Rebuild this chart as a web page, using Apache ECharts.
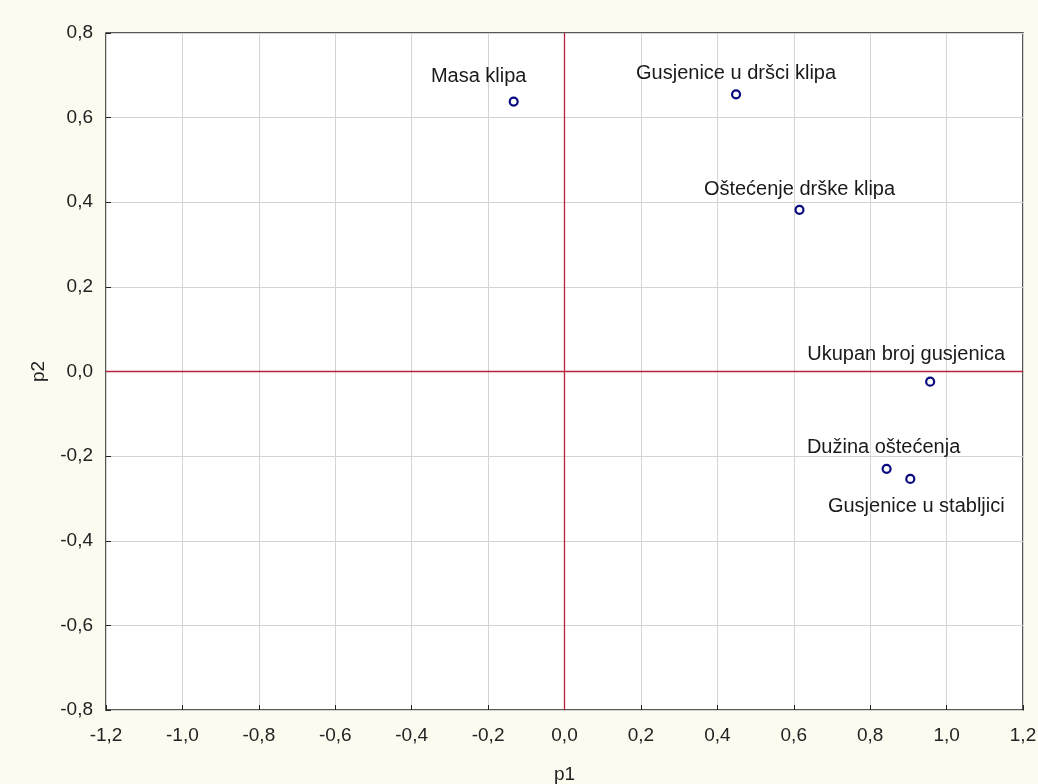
<!DOCTYPE html>
<html><head><meta charset="utf-8">
<script src="https://cdn.jsdelivr.net/npm/echarts@6/dist/echarts.min.js"></script>
<style>html,body{margin:0;padding:0;background:#fdfaf0;}#c{width:1038px;height:784px;}</style>
</head><body><div id="c"></div>
<script>
const names = ["Masa klipa","Gusjenice u dršci klipa","Oštećenje drške klipa","Ukupan broj gusjenica","Dužina oštećenja","Gusjenice u stabljici"];
const p1 = [-0.133, 0.449, 0.615, 0.957, 0.843, 0.905];
const p2 = [0.638, 0.655, 0.382, -0.024, -0.230, -0.254];

const labelOffsets = {
  "Masa klipa": [-35, -25],
  "Gusjenice u dršci klipa": [0, -21],
  "Oštećenje drške klipa": [0, -20],
  "Ukupan broj gusjenica": [-24, -27],
  "Dužina oštećenja": [-3, -21],
  "Gusjenice u stabljici": [6, 28]
};
const fmt = v => (Math.round(v*10)/10).toFixed(1).replace('.', ',');
const data = names.map((n,i)=>({
  name: n, value: [p1[i], p2[i]],
  label: {offset: labelOffsets[n]}
}));
const chart = echarts.init(document.getElementById('c'));
chart.setOption({
  backgroundColor: '#fdfaf0',
  animation: false,
  grid: {left: 106, right: 15, top: 33, bottom: 74, outerBoundsMode: 'none', containLabel: false, show: true, backgroundColor: '#fff', borderColor: '#222', borderWidth: 1.5},
  xAxis: {
    type: 'value', min: -1.2, max: 1.2, interval: 0.2,
    name: 'p1', nameLocation: 'middle', nameGap: 55,
    nameTextStyle: {fontFamily: 'Liberation Sans', fontSize: 19, color: '#222'},
    axisLine: {show: false, onZero: false}, axisTick: {show: true, inside: true, length: 5, lineStyle: {color: '#222'}},
    axisLabel: {formatter: fmt, fontFamily: 'Liberation Sans', fontSize: 19, color: '#222', margin: 16},
    splitLine: {show: true, lineStyle: {color: '#d4d4d4', width: 1}}
  },
  yAxis: {
    type: 'value', min: -0.8, max: 0.8, interval: 0.2,
    name: 'p2', nameLocation: 'middle', nameGap: 58,
    nameTextStyle: {fontFamily: 'Liberation Sans', fontSize: 19, color: '#222'},
    axisLine: {show: false, onZero: false}, axisTick: {show: true, inside: true, length: 5, lineStyle: {color: '#222'}},
    axisLabel: {formatter: fmt, fontFamily: 'Liberation Sans', fontSize: 19, color: '#222', margin: 13},
    splitLine: {show: true, lineStyle: {color: '#d4d4d4', width: 1}}
  },
  series: [{
    type: 'scatter', data: data,
    symbol: 'circle', symbolSize: 8,
    itemStyle: {color: '#fff', borderColor: '#0a0a80', borderWidth: 2.2, opacity: 1},
    label: {show: true, formatter: p => p.name, position: 'inside', fontFamily: 'Liberation Sans', fontSize: 20, color: '#1a1a1a', textBorderWidth: 0},
    markLine: {
      silent: true, symbol: 'none', label: {show: false},
      lineStyle: {color: '#b5223a', width: 1.3, type: 'solid', opacity: 1},
      data: [{xAxis: 0}, {yAxis: 0}]
    }
  }]
});
</script></body></html>
